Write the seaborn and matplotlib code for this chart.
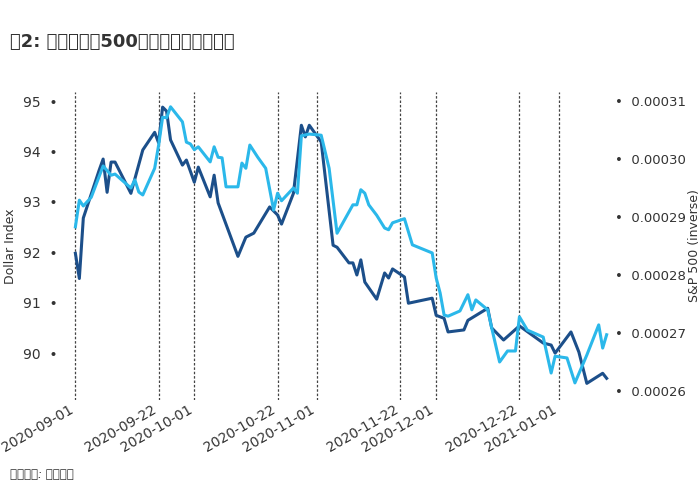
import matplotlib
matplotlib.use("Agg")
import matplotlib.pyplot as plt
from matplotlib import font_manager as fm
import seaborn as sns
import pandas as pd

cjk = None
for f in fm.fontManager.ttflist:
    if "CJK" in f.name and ("SC" in f.name or cjk is None):
        cjk = f.name
        if "SC" in f.name:
            break
if cjk is None:
    for p in fm.findSystemFonts():
        if "CJK" in p or "cjk" in p.lower():
            fm.fontManager.addfont(p)
            cjk = fm.FontProperties(fname=p).get_name()
            break
plt.rcParams["font.family"] = "sans-serif"
plt.rcParams["font.sans-serif"] = ["DejaVu Sans"] + ([cjk] if cjk else [])

start = "2020-09-01"
dollar_days = [0,1,2,6,7,8,9,10,14,17,20,21,22,23,24,27,28,30,31,34,35,36,41,43,45,49,51,52,55,57,58,59,62,65,66,69,70,71,72,73,76,78,79,80,83,84,90,91,93,94,98,99,104,105,108,112,118,120,121,125,127,129,133,134]
dollar_vals = [91.98,91.48,92.68,93.63,93.85,93.19,93.79,93.79,93.17,94.03,94.38,94.17,94.88,94.80,94.23,93.73,93.83,93.39,93.69,93.10,93.53,92.98,91.92,92.30,92.38,92.90,92.74,92.56,93.17,94.52,94.29,94.52,94.19,92.14,92.10,91.79,91.79,91.55,91.85,91.41,91.07,91.59,91.49,91.67,91.51,90.99,91.09,90.75,90.69,90.42,90.46,90.65,90.89,90.50,90.26,90.54,90.20,90.16,90.00,90.42,90.02,89.40,89.60,89.50]
spx_days = [0,1,2,4,7,9,10,14,15,16,17,20,21,22,23,24,27,28,29,30,31,34,35,36,37,38,41,42,43,44,46,48,50,51,52,55,56,57,59,62,64,66,70,71,72,73,74,76,78,79,80,83,85,90,91,92,93,94,97,99,100,101,104,105,107,109,111,112,114,118,120,121,124,126,129,132,133,134]
spx_inv_e5 = [28.83,29.29,29.19,29.34,29.88,29.72,29.74,29.50,29.64,29.43,29.38,29.84,30.24,30.72,30.71,30.90,30.64,30.29,30.26,30.16,30.21,29.95,30.21,30.03,30.02,29.52,29.52,29.93,29.84,30.24,30.03,29.84,29.12,29.41,29.28,29.50,29.41,30.40,30.43,30.41,29.84,28.72,29.21,29.21,29.47,29.41,29.21,29.03,28.81,28.78,28.90,28.97,28.52,28.38,27.95,27.69,27.31,27.29,27.38,27.66,27.40,27.57,27.40,27.09,26.50,26.69,26.69,27.28,27.05,26.93,26.31,26.60,26.57,26.14,26.62,27.14,26.74,26.97]
vline_dates = ["2020-09-01","2020-09-22","2020-10-01","2020-10-22","2020-11-01","2020-11-22","2020-12-01","2020-12-22","2021-01-01"]
left_ticks = [90,91,92,93,94,95]
right_ticks = [0.00026,0.00027,0.00028,0.00029,0.00030,0.00031]

t0 = pd.Timestamp(start)
d1 = pd.DataFrame({"date": [t0 + pd.Timedelta(days=d) for d in dollar_days], "v": dollar_vals})
d2 = pd.DataFrame({"date": [t0 + pd.Timedelta(days=d) for d in spx_days], "v": [v*1e-5 for v in spx_inv_e5]})

fig = plt.figure(figsize=(7,5), dpi=100)
ax = fig.add_axes([0.089, 0.2, 0.785, 0.616])
ax2 = ax.twinx()
sns.lineplot(data=d1, x="date", y="v", ax=ax, color="#1c4f8a", lw=2.2)
sns.lineplot(data=d2, x="date", y="v", ax=ax2, color="#2bb8ea", lw=2.2)
ax.set_xlim(t0 - pd.Timedelta(days=3.3), t0 + pd.Timedelta(days=135.3))
ax.set_ylim(89.07, 95.18)
ax2.set_ylim(25.845e-5, 31.155e-5)
for d in vline_dates:
    ax.axvline(pd.Timestamp(d), color="#444444", ls=(0,(2,1.5)), lw=0.9, zorder=0)
for a in (ax, ax2):
    for s in a.spines.values():
        s.set_visible(False)
ax.set_xticks([pd.Timestamp(d) for d in vline_dates])
ax.set_xticklabels(vline_dates, rotation=30, ha="right", fontsize=10, color="#333333")
ax.tick_params(axis="x", length=0, pad=2)
ax.set_yticks(left_ticks)
ax.set_yticklabels([f"{t}  •" for t in left_ticks], fontsize=10, color="#333333")
ax.tick_params(axis="y", length=0)
ax2.set_yticks(right_ticks)
ax2.set_yticklabels([f"•  {t:.5f}" for t in right_ticks], fontsize=9.5, color="#333333")
ax2.tick_params(axis="y", length=0, pad=2)
ax.set_xlabel("")
ax.set_ylabel("Dollar Index", fontsize=9, color="#333333", labelpad=4)
ax2.set_ylabel("S&P 500 (inverse)", fontsize=9, color="#333333", labelpad=2)
fig.text(0.014, 0.905, "图2: 美元与标普500指数的倒数高度相关", fontsize=13, fontweight="bold", color="#333333")
fig.text(0.014, 0.045, "资料来源: 作者提供", fontsize=8.5, style="italic", color="#333333")
fig.savefig("out.png", dpi=100)
